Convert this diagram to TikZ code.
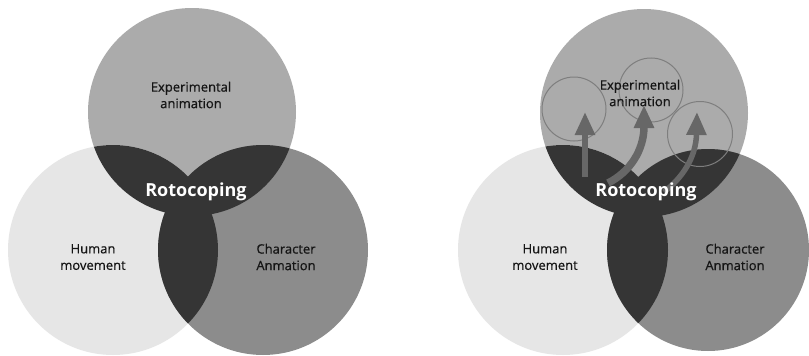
\documentclass[tikz,border=0pt]{standalone}
\usepackage{fontspec}
\setmainfont{Open Sans}
\newfontfamily\lblfont{Open Sans}[FakeBold=0.7]
\usetikzlibrary{arrows.meta}
\definecolor{ctop}{HTML}{ABABAB}
\definecolor{cleft}{HTML}{E6E6E6}
\definecolor{cright}{HTML}{8C8C8C}
\definecolor{cdark}{HTML}{353535}
\definecolor{ctext}{HTML}{151515}
\definecolor{carrow}{HTML}{676767}
\definecolor{cring}{HTML}{7E7E7E}
\tikzset{
  lbl/.style={text=ctext, font=\lblfont\fontsize{13}{16.5}\selectfont, align=center, inner sep=0pt},
  core/.style={text=white, font=\fontsize{18}{20}\selectfont\bfseries, inner sep=0pt},
  ring/.style={draw=cring, line width=1pt},
  bigarrow/.style={draw=carrow, -{Triangle[length=23pt,width=19pt]}},
}
\newcommand{\myvenn}[6]{%
  \fill[ctop] #1 circle (#4);
  \fill[cleft] #2 circle (#5);
  \fill[cright] #3 circle (#6);
  \begin{scope}\clip #1 circle (#4); \fill[cdark] #2 circle (#5); \end{scope}
  \begin{scope}\clip #1 circle (#4); \fill[cdark] #3 circle (#6); \end{scope}
  \begin{scope}\clip #2 circle (#5); \fill[cdark] #3 circle (#6); \end{scope}
}
\begin{document}
\begin{tikzpicture}[x=1pt,y=-1pt]
\useasboundingbox (0,0) rectangle (809,356);
\fill[white] (0,0) rectangle (809,356);
\begin{scope}
\clip (0,0) rectangle (809,356);
% left diagram
\myvenn{(192,112)}{(113,250)}{(263,250)}{104}{105}{105}
% right diagram
\myvenn{(644,113)}{(563,250)}{(708,250)}{104}{105}{101}
\end{scope}

% rings in right diagram
\node[ring, circle, minimum size=64pt, inner sep=0pt] (r1) at (574,109) {};
\node[ring, circle, minimum size=64pt, inner sep=0pt] (r2) at (651,90) {};
\node[ring, circle, minimum size=65pt, inner sep=0pt] (r3) at (700,134) {};

% arrows
\coordinate (a1s) at (585,177);
\coordinate (a1e) at (585,112);
\coordinate (a2s) at (608,183);
\coordinate (a2e) at (644,105);
\coordinate (a3s) at (664,192);
\coordinate (a3e) at (697,112);
\draw[bigarrow, line width=5.5pt] (a1s) -- (a1e);
\draw[bigarrow, line width=7.5pt] (a2s) .. controls (630,172) and (644,150) .. (a2e);
\draw[bigarrow, line width=5.5pt] (a3s) .. controls (682,178) and (696,158) .. (a3e);

% labels left
\node[lbl] (expL) at (191,95) {Experimental\\animation};
\node[lbl] (humL) at (93,257) {Human\\movement};
\node[lbl] (chaL) at (286,257) {Character\\Anmation};
\node[core] (rotL) at (196,192) {Rotocoping};
% labels right
\node[lbl] (expR) at (640,93) {Experimental\\animation};
\node[lbl] (humR) at (545,257) {Human\\movement};
\node[lbl] (chaR) at (735,257) {Character\\Anmation};
\node[core] (rotR) at (646,192) {Rotocoping};
\end{tikzpicture}
\end{document}
